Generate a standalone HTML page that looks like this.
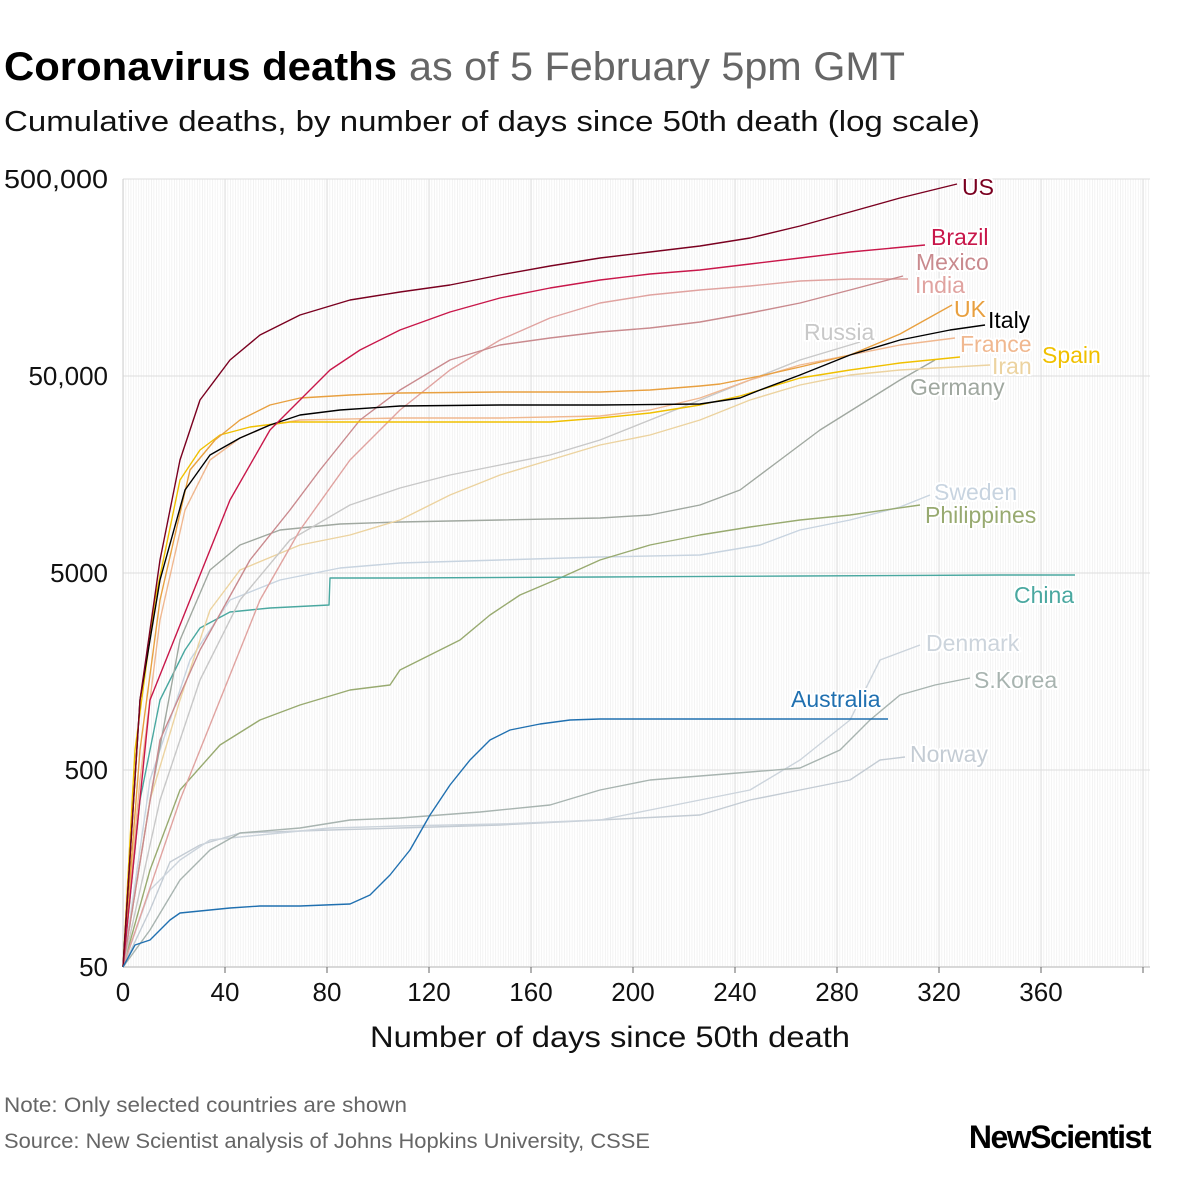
<!DOCTYPE html>
<html><head><meta charset="utf-8"><style>
body{margin:0;background:#fff;}
svg{display:block;font-family:"Liberation Sans",sans-serif;}
.lab{font-size:23px;paint-order:stroke;stroke:#fff;stroke-width:4px;stroke-linejoin:round;}
polyline{fill:none;stroke-width:1.4;stroke-linejoin:round;}
</style></head><body>
<svg width="1200" height="1200" viewBox="0 0 1200 1200">
<defs><pattern id="vg" x="123" y="0" width="2.55" height="10" patternUnits="userSpaceOnUse"><rect x="0" y="0" width="0.6" height="10" fill="#ececec"/></pattern></defs>
<text x="4" y="80" font-size="40" font-weight="bold" fill="#000" textLength="393" lengthAdjust="spacingAndGlyphs">Coronavirus deaths</text>
<text x="409" y="80" font-size="40" fill="#666" textLength="496" lengthAdjust="spacingAndGlyphs">as of 5 February 5pm GMT</text>
<text x="4" y="131" font-size="29" fill="#111" textLength="976" lengthAdjust="spacingAndGlyphs">Cumulative deaths, by number of days since 50th death (log scale)</text>
<rect x="123" y="179" width="1027" height="788" fill="url(#vg)"/>
<g stroke="#ddd" stroke-width="1">
<line x1="123" y1="179" x2="1150" y2="179"/><line x1="123" y1="376" x2="1150" y2="376"/><line x1="123" y1="573" x2="1150" y2="573"/><line x1="123" y1="770" x2="1150" y2="770"/>
<line x1="225" y1="179" x2="225" y2="967"/><line x1="327" y1="179" x2="327" y2="967"/><line x1="429" y1="179" x2="429" y2="967"/><line x1="531" y1="179" x2="531" y2="967"/><line x1="633" y1="179" x2="633" y2="967"/><line x1="735" y1="179" x2="735" y2="967"/><line x1="837" y1="179" x2="837" y2="967"/><line x1="939" y1="179" x2="939" y2="967"/><line x1="1041" y1="179" x2="1041" y2="967"/><line x1="1143" y1="179" x2="1143" y2="967"/>
</g>
<line x1="123" y1="179" x2="123" y2="967" stroke="#ccc"/>
<line x1="123" y1="967" x2="1150" y2="967" stroke="#ccc" stroke-width="1.5"/>
<g stroke="#666"><line x1="225" y1="967" x2="225" y2="973"/><line x1="327" y1="967" x2="327" y2="973"/><line x1="429" y1="967" x2="429" y2="973"/><line x1="531" y1="967" x2="531" y2="973"/><line x1="633" y1="967" x2="633" y2="973"/><line x1="735" y1="967" x2="735" y2="973"/><line x1="837" y1="967" x2="837" y2="973"/><line x1="939" y1="967" x2="939" y2="973"/><line x1="1041" y1="967" x2="1041" y2="973"/><line x1="1143" y1="967" x2="1143" y2="973"/></g>
<g font-size="26" fill="#111" text-anchor="end">
<text x="108" y="188" textLength="104" lengthAdjust="spacingAndGlyphs">500,000</text><text x="108" y="385">50,000</text><text x="108" y="582">5000</text><text x="108" y="779">500</text><text x="108" y="976">50</text>
</g>
<g font-size="26" fill="#111" text-anchor="middle">
<text x="123" y="1001">0</text><text x="225" y="1001">40</text><text x="327" y="1001">80</text><text x="429" y="1001">120</text><text x="531" y="1001">160</text><text x="633" y="1001">200</text><text x="735" y="1001">240</text><text x="837" y="1001">280</text><text x="939" y="1001">320</text><text x="1041" y="1001">360</text>
</g>
<text x="370" y="1047" font-size="30" fill="#111" textLength="480" lengthAdjust="spacingAndGlyphs">Number of days since 50th death</text>

<polyline stroke="#c4ccd4" points="123,967 150,910 170,862 200,845 240,833 330,830 400,828 500,825 600,820 700,815 750,800 800,790 850,780 880,760 905,757"/>
<polyline stroke="#ccd4dc" points="123,967 150,890 180,860 210,840 260,835 330,828 400,826 500,824 600,820 650,810 700,800 750,790 800,760 850,720 880,660 920,645"/>
<polyline stroke="#a8b4b0" points="123,967 150,930 180,880 210,850 240,833 300,828 350,820 400,818 480,812 550,805 600,790 650,780 700,776 750,772 800,768 840,750 870,720 900,695 935,685 970,678"/>
<polyline stroke="#c8d4e0" points="123,967 150,780 190,660 230,600 280,580 340,568 400,563 500,560 600,557 700,555 760,545 800,530 850,520 900,507 930,495"/>
<polyline stroke="#98aa70" points="123,967 150,870 180,790 220,745 260,720 300,705 350,690 390,685 400,670 430,655 460,640 490,615 520,595 560,578 600,560 650,545 700,535 750,527 800,520 850,515 920,505"/>
<polyline stroke="#4aa8a0" points="123,967 140,800 160,700 185,650 200,628 230,612 270,608 329,605 330,578 400,578 600,577 800,576 1000,575 1075,575"/>
<polyline stroke="#a0a8a0" points="123,967 150,800 180,640 210,570 240,545 280,530 340,524 400,522 500,520 600,518 650,515 700,505 740,490 780,460 820,430 860,405 900,380 935,360"/>
<polyline stroke="#ecd3a0" points="123,967 150,800 180,700 210,610 240,570 300,545 350,535 400,520 450,495 500,475 550,460 600,445 650,435 700,420 750,400 800,385 850,375 900,370 990,365"/>
<polyline stroke="#c8c8c8" points="123,967 160,800 200,680 240,600 290,540 350,505 400,488 450,475 500,465 550,455 600,440 650,420 700,400 750,380 800,360 850,345 860,342"/>
<polyline stroke="#f0b890" points="123,967 140,780 160,620 185,510 210,460 240,438 270,425 300,420 400,418 500,418 600,416 650,410 700,398 750,380 800,365 850,355 900,345 955,338"/>
<polyline stroke="#e0a3a0" points="123,967 180,800 220,700 260,600 300,530 350,460 400,410 450,370 500,340 550,318 600,303 650,295 700,290 750,286 800,281 850,279 908,279"/>
<polyline stroke="#c98a8e" points="123,967 160,740 200,650 250,560 290,510 320,470 360,420 400,390 450,360 500,345 550,338 600,332 650,328 700,322 750,313 800,303 850,290 903,276"/>
<polyline stroke="#f0c000" points="123,967 135,750 155,600 180,480 200,450 220,435 250,427 290,422 400,422 500,422 550,422 600,418 650,413 700,405 740,396 800,378 850,370 900,363 960,357"/>
<polyline stroke="#e8a040" points="123,967 140,750 160,600 190,470 215,440 240,420 270,405 300,398 350,395 400,393 500,392 600,392 650,390 700,386 720,384 760,376 800,367 850,355 900,334 952,305"/>
<polyline stroke="#000" points="123,967 140,700 160,580 185,490 210,455 240,438 270,425 300,415 340,410 400,406 500,405 600,405 700,404 740,398 760,390 800,375 850,355 900,340 950,330 985,325"/>
<polyline stroke="#c8174a" points="123,967 150,700 190,600 230,500 270,430 300,400 330,370 360,350 400,330 450,312 500,298 550,288 600,280 650,274 700,270 750,264 800,258 850,252 925,245"/>
<polyline stroke="#7a0020" points="123,967 140,700 160,560 180,460 200,400 230,360 260,335 300,315 350,300 400,292 450,285 500,275 550,266 600,258 650,252 700,246 750,238 800,226 850,212 900,198 957,184"/>
<polyline stroke="#2070b0" points="123,967 135,945 150,940 170,920 180,913 230,908 260,906 300,906 350,904 370,895 390,875 410,850 430,815 450,785 470,760 490,740 510,730 540,724 570,720 600,719 700,719 800,719 888,719"/>

<g class="lab">
<text x="962" y="195" fill="#7a0020">US</text>
<text x="931" y="245" fill="#c8174a">Brazil</text>
<text x="916" y="270" fill="#c98a8e">Mexico</text>
<text x="915" y="293" fill="#e0a3a0">India</text>
<text x="954" y="317" fill="#e8a040">UK</text>
<text x="988" y="328" fill="#000">Italy</text>
<text x="804" y="340" fill="#c8c8c8">Russia</text>
<text x="960" y="352" fill="#f0b890">France</text>
<text x="1042" y="363" fill="#f0c000">Spain</text>
<text x="992" y="374" fill="#ecd3a0">Iran</text>
<text x="910" y="395" fill="#a0a8a0">Germany</text>
<text x="934" y="500" fill="#c8d4e0">Sweden</text>
<text x="925" y="523" fill="#98aa70">Philippines</text>
<text x="1014" y="603" fill="#4aa8a0">China</text>
<text x="926" y="651" fill="#ccd4dc">Denmark</text>
<text x="974" y="688" fill="#a8b4b0">S.Korea</text>
<text x="791" y="707" fill="#2070b0">Australia</text>
<text x="910" y="762" fill="#c4ccd4">Norway</text>
</g>
<text x="4" y="1112" font-size="21" fill="#666" textLength="403" lengthAdjust="spacingAndGlyphs">Note: Only selected countries are shown</text>
<text x="4" y="1148" font-size="21" fill="#666" textLength="646" lengthAdjust="spacingAndGlyphs">Source: New Scientist analysis of Johns Hopkins University, CSSE</text>
<text x="1150" y="1148" font-size="32" font-weight="bold" fill="#000" text-anchor="end" letter-spacing="-1.5">NewScientist</text>
</svg>
</body></html>
